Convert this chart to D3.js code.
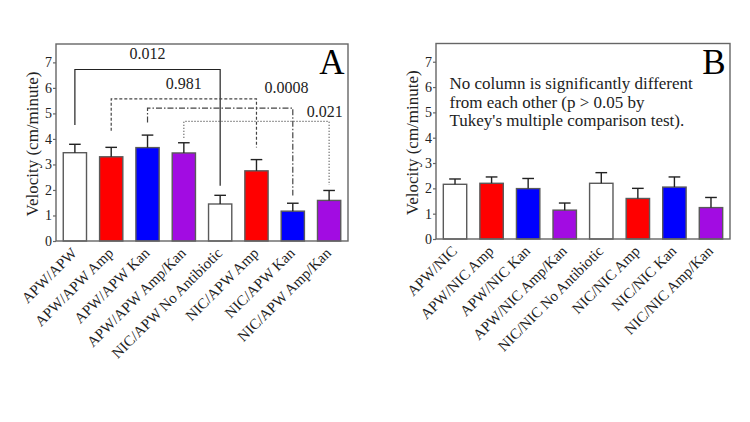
<!DOCTYPE html>
<html><head><meta charset="utf-8">
<script src="https://cdn.jsdelivr.net/npm/d3@7"></script>
<style>
html,body{margin:0;padding:0;background:#fff;}
svg{display:block;}
</style></head>
<body><svg id="c" width="750" height="422" font-family="Liberation Serif"></svg>
<script>
// ---------- data ----------
const catsA = ["APW/APW","APW/APW Amp","APW/APW Kan","APW/APW Amp/Kan","NIC/APW No Antibiotic","NIC/APW Amp","NIC/APW Kan","NIC/APW Amp/Kan"];
const meansA = [3.46, 3.30, 3.66, 3.45, 1.45, 2.75, 1.17, 1.59];
const errTopA = [3.79, 3.67, 4.15, 3.85, 1.79, 3.19, 1.48, 1.98];

const catsB = ["APW/NIC","APW/NIC Amp","APW/NIC Kan","APW/NIC Amp/Kan","NIC/NIC No Antibiotic","NIC/NIC Amp","NIC/NIC Kan","NIC/NIC Amp/Kan"];
const meansB = [2.16, 2.20, 1.99, 1.14, 2.20, 1.60, 2.05, 1.24];
const errTopB = [2.37, 2.45, 2.39, 1.42, 2.62, 2.00, 2.45, 1.64];

const fills = ["#ffffff","#ff0000","#0000ff","#a20ce2","#ffffff","#ff0000","#0000ff","#a20ce2"];
const yTicks = [0,1,2,3,4,5,6,7];

// comparison brackets for panel A (indices into catsA, values in cm/minute)
const bracketP     = ["0.012","0.981","0.0008","0.021"];
const bracketFrom  = [0, 1, 2, 3];
const bracketTo    = [4, 5, 6, 7];
const bracketLevel = [6.72, 5.57, 5.21, 4.69];
const bracketLeftEnd  = [4.55, 4.32, 4.64, 4.05];
const bracketRightEnd = [2.17, 3.66, 1.78, 2.19];
const bracketLabelPos = [2.0, 3.0, 5.83, 6.88];   // in category-index units
const bracketLabelVal = [7.14, 5.96, 5.80, 4.86];
const bracketDash = [null, "3,2", "6,2,1.5,2", "1,2"];

const noteB = ["No column is significantly different","from each other (p > 0.05 by","Tukey's multiple comparison test)."];
const yTitle = "Velocity (cm/minute)";
const panelLetters = ["A","B"];

// ---------- drawing ----------
const FONT = "Liberation Serif";
const BASE = 15;
const svg = d3.select("#c");
const yMax = 7.72;

function txt(sel) { return sel.attr("font-family", FONT); }

function panel(cats, means, errTop, box, letter) {
  const g = svg.append("g").attr("font-family", FONT);
  const x = d3.scaleBand().domain(cats).range([box.l, box.r]).paddingInner(0.36).paddingOuter(0.2);
  const y = d3.scaleLinear().domain([0, yMax]).range([box.b, box.t]);

  g.selectAll("rect.bar").data(cats).enter().append("rect")
    .attr("x", d => x(d)).attr("width", x.bandwidth())
    .attr("y", (d,i) => y(means[i])).attr("height", (d,i) => y(0) - y(means[i]))
    .attr("fill", (d,i) => fills[i]).attr("stroke", "#5a5a5a").attr("stroke-width", 1.4);

  const cw = x.bandwidth() * 0.5;
  const eg = g.selectAll("g.err").data(cats).enter().append("g");
  eg.append("line").attr("x1", d => x(d) + x.bandwidth()/2).attr("x2", d => x(d) + x.bandwidth()/2)
    .attr("y1", (d,i) => y(means[i])).attr("y2", (d,i) => y(errTop[i]))
    .attr("stroke", "#222").attr("stroke-width", 1.4);
  eg.append("line").attr("x1", d => x(d) + x.bandwidth()/2 - cw/2).attr("x2", d => x(d) + x.bandwidth()/2 + cw/2)
    .attr("y1", (d,i) => y(errTop[i])).attr("y2", (d,i) => y(errTop[i]))
    .attr("stroke", "#222").attr("stroke-width", 1.4);

  g.append("rect").attr("x", box.l).attr("y", box.t).attr("width", box.r - box.l).attr("height", box.b - box.t)
    .attr("fill", "none").attr("stroke", "#666").attr("stroke-width", 1.4);

  const ax = g.append("g").attr("transform", `translate(${box.l},0)`)
    .call(d3.axisLeft(y).tickValues(yTicks).tickFormat(d3.format("d")).tickSize(3).tickPadding(1));
  ax.attr("font-family", FONT);
  ax.select(".domain").remove();
  ax.selectAll(".tick line").attr("stroke", "#666").attr("stroke-width", 1.2);
  txt(ax.selectAll(".tick text")).attr("font-size", 14).attr("fill", "#222");

  txt(g.append("text"))
    .attr("transform", `translate(${box.l - 18},${(box.t + box.b)/2 + 1.5}) rotate(-90) scale(${17/BASE})`)
    .attr("text-anchor", "middle").attr("font-size", BASE).attr("fill", "#222").text(yTitle);

  txt(g.selectAll("text.xl").data(cats).enter().append("text"))
    .attr("transform", d => `translate(${x(d) + x.bandwidth()/2 + 3},${box.b + 13}) rotate(-45)`)
    .attr("text-anchor", "end").attr("font-size", 15).attr("fill", "#222").text(d => d);

  txt(g.append("text")).attr("x", box.r - 16).attr("y", box.t + 30).attr("text-anchor", "middle")
    .attr("font-size", 35).attr("fill", "#000").text(letter);

  return {g, x, y};
}

const A = panel(catsA, meansA, errTopA, {l:56, r:348, t:44, b:241}, panelLetters[0]);
const B = panel(catsB, meansB, errTopB, {l:436, r:730, t:43.5, b:239}, panelLetters[1]);

const cx = (sc, i) => sc(sc.domain()[0]) + sc.bandwidth()/2 + i * sc.step();
bracketP.forEach((p, k) => {
  const x1 = cx(A.x, bracketFrom[k]), x2 = cx(A.x, bracketTo[k]);
  const path = d3.path();
  path.moveTo(x1, A.y(bracketLeftEnd[k]));
  path.lineTo(x1, A.y(bracketLevel[k]));
  path.lineTo(x2, A.y(bracketLevel[k]));
  path.lineTo(x2, A.y(bracketRightEnd[k]));
  A.g.append("path").attr("d", path.toString()).attr("fill", "none")
    .attr("stroke", k === 0 ? "#222" : "#444").attr("stroke-width", 1.2)
    .attr("stroke-dasharray", bracketDash[k]);
  txt(A.g.append("text"))
    .attr("transform", `translate(${cx(A.x, bracketLabelPos[k])},${A.y(bracketLabelVal[k])}) scale(${16/BASE})`)
    .attr("text-anchor", "middle").attr("font-size", BASE).attr("fill", "#222").text(p);
});

const s17 = 17 / BASE;
const note = txt(B.g.append("text"))
  .attr("transform", `translate(449.5,89.3) scale(${s17})`)
  .attr("font-size", BASE).attr("fill", "#222");
txt(note.selectAll("tspan").data(noteB).enter().append("tspan"))
  .attr("x", 0).attr("y", (d,i) => i * 18.4 / s17).text(d => d);
</script></body></html>
